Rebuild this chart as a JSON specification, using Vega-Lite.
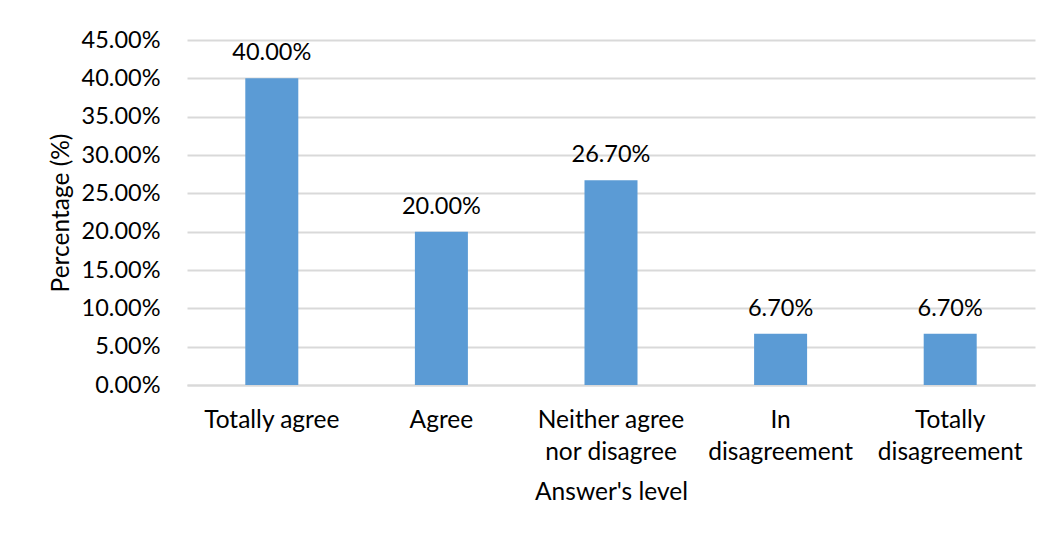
{
  "$schema": "https://vega.github.io/schema/vega-lite/v6.json",
  "autosize": {"type": "none"},
  "padding": {"left": 187, "top": 40, "right": 20, "bottom": 150},
  "width": 848,
  "height": 345,
  "background": "white",
  "config": {
    "view": {"stroke": null},
    "font": "Lato",
    "axis": {"labelFont": "Lato", "titleFont": "Lato", "labelColor": "#000000", "titleColor": "#000000", "titleFontWeight": "normal"}
  },
  "data": {
    "values": [
      {"level": "Totally agree", "pct": 0.40},
      {"level": "Agree", "pct": 0.20},
      {"level": "Neither agree nor disagree", "pct": 0.267},
      {"level": "In disagreement", "pct": 0.067},
      {"level": "Totally disagreement", "pct": 0.067}
    ]
  },
  "encoding": {
    "x": {
      "field": "level",
      "type": "nominal",
      "sort": null,
      "scale": {"paddingInner": 0.6875, "paddingOuter": 0.34375},
      "axis": {
        "title": "Answer's level",
        "titleFontSize": 24.5,
        "titlePadding": 17,
        "labelFontSize": 24.5,
        "labelAngle": 0,
        "labelPadding": 23,
        "labelLineHeight": 32,
        "ticks": false,
        "domain": true,
        "domainColor": "#d9d9d9",
        "domainWidth": 2,
        "labelExpr": "datum.value == 'Neither agree nor disagree' ? ['Neither agree', 'nor disagree'] : datum.value == 'In disagreement' ? ['In', 'disagreement'] : datum.value == 'Totally disagreement' ? ['Totally', 'disagreement'] : datum.value"
      }
    },
    "y": {
      "field": "pct",
      "type": "quantitative",
      "scale": {"domain": [0, 0.45]},
      "axis": {
        "title": "Percentage (%)",
        "titleFontSize": 24.5,
        "titlePadding": 8,
        "labelFontSize": 23.5,
        "labelPadding": 27,
        "format": ".2%",
        "values": [0, 0.05, 0.1, 0.15, 0.2, 0.25, 0.3, 0.35, 0.4, 0.45],
        "ticks": false,
        "domain": false,
        "grid": true,
        "gridColor": "#d9d9d9",
        "gridWidth": 2
      }
    }
  },
  "layer": [
    {"mark": {"type": "bar", "color": "#5b9bd5"}},
    {
      "mark": {"type": "text", "fontSize": 23.5, "baseline": "alphabetic", "dy": -18, "color": "#000000"},
      "encoding": {"text": {"field": "pct", "type": "quantitative", "format": ".2%"}}
    }
  ]
}
